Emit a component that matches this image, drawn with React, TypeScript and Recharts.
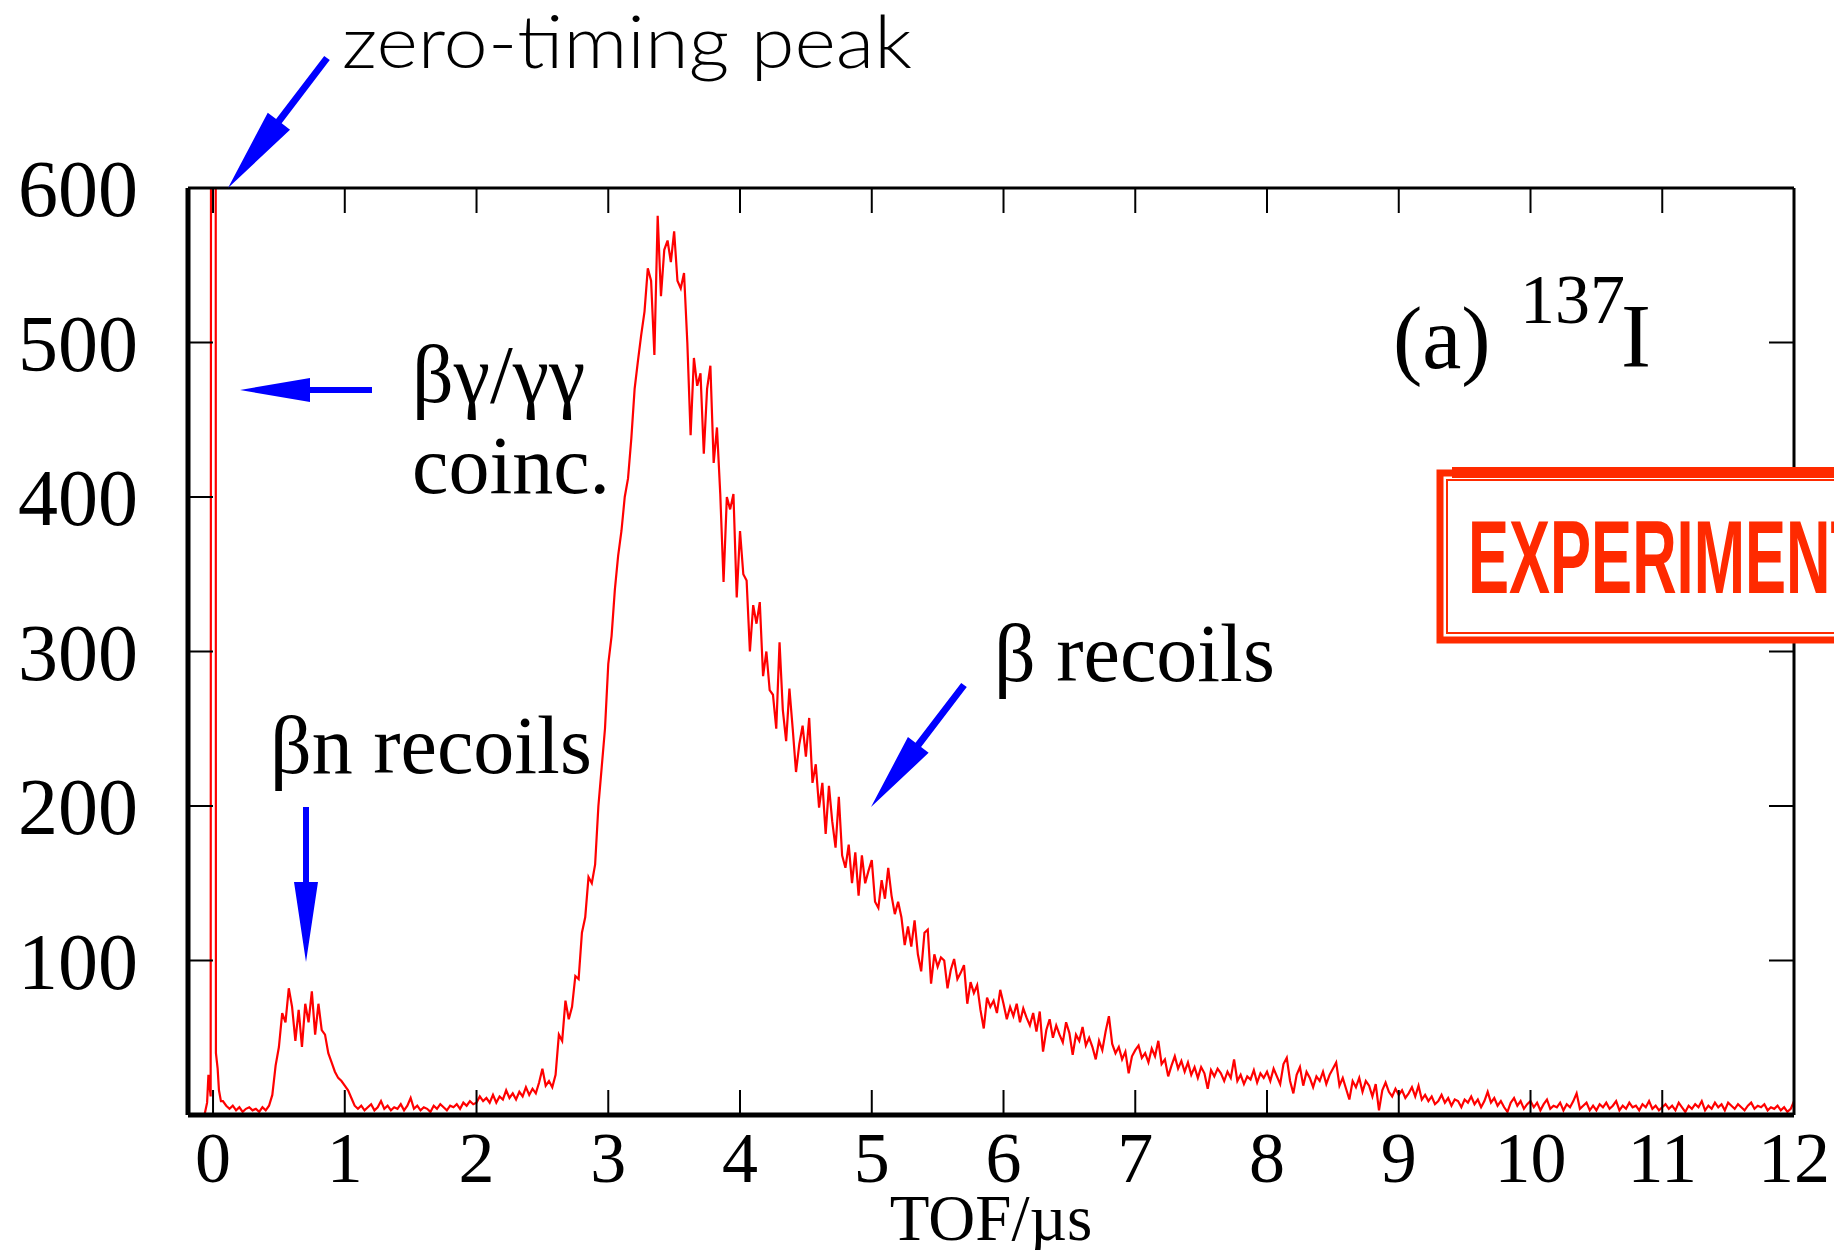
import React from 'react';
import { LineChart, Line, XAxis, YAxis } from 'recharts';

// TOF spectrum of 137I, counts per 0.025 us bin
const BIN_US = 0.025;

const zeroPeakTof = [-0.065, -0.045, -0.035, -0.018, -0.012, 0.018, 0.022, 0.035, 0.045, 0.06];
const zeroPeakCounts = [0, 8, 26, 12, 1500, 1500, 40, 30, 16, 9];

// 0.075 .. 0.975 us (beta-n recoils)
const betaNCounts = [
  9, 6, 4, 6, 3, 5, 2, 4, 5, 3, 4, 2, 5, 3, 6, 13,
  32, 44, 66, 60, 82, 70, 48, 68, 44, 72, 60, 80, 52, 72, 55, 52, 40, 34, 28, 24, 22,
];
const us1Counts = [
  19, 16, 11, 6, 4, 6, 3, 5, 7, 3, 5, 9, 4, 6, 3, 5, 4, 7, 3, 6,
  11, 4, 6, 3, 5, 4, 2, 6, 4, 7, 5, 3, 6, 5, 7, 4, 8, 6, 9, 7,
];
const us2Counts = [
  8, 12, 9, 11, 8, 13, 8, 12, 10, 16, 11, 14, 10, 15, 12, 18, 13, 17, 14, 21,
  30, 19, 22, 18, 26, 52, 48, 74, 62, 70, 90, 88, 118, 128, 154, 150, 162, 200, 225, 250,
];
const us3Counts = [
  292, 310, 340, 362, 378, 400, 412, 438, 470, 488, 505, 520, 548, 540, 492, 582, 530, 560, 566, 552,
  572, 540, 535, 545, 500, 440, 490, 472, 480, 428, 470, 485, 422, 445, 402, 345, 400, 392, 402, 335,
];
const us4Counts = [
  378, 350, 346, 300, 330, 318, 332, 284, 300, 275, 272, 250, 306, 262, 242, 276, 250, 222, 240, 252,
  232, 257, 215, 227, 199, 215, 182, 213, 190, 173, 206, 168, 160, 175, 150, 170, 142, 168, 150, 158,
];
const us5Counts = [
  165, 138, 134, 152, 140, 160, 142, 130, 138, 128, 110, 122, 109, 126, 104, 93, 118, 120, 85, 104,
  96, 102, 100, 82, 94, 101, 88, 92, 97, 72, 86, 79, 84, 68, 56, 76, 70, 74, 66, 81,
];
const us6Counts = [
  72, 62, 70, 64, 72, 60, 69, 63, 58, 66, 54, 67, 41, 55, 62, 50, 58, 52, 47, 60,
  53, 39, 52, 48, 57, 45, 50, 44, 36, 48, 42, 54, 64, 46, 40, 44, 36, 41, 27, 38,
];
const us7Counts = [
  42, 45, 37, 40, 34, 43, 38, 48, 33, 36, 25, 32, 38, 30, 35, 28, 34, 26, 31, 24,
  31, 27, 17, 29, 25, 30, 27, 22, 28, 24, 36, 22, 26, 20, 25, 23, 29, 21, 27, 24,
];
const us8Counts = [
  28, 22, 30, 25, 20, 33, 37, 22, 14, 26, 31, 19, 28, 24, 18, 25, 22, 28, 20, 26,
  30, 34, 19, 24, 17, 10, 22, 18, 24, 15, 22, 19, 12, 20, 3, 16, 21, 15, 12, 17,
];
const us9Counts = [
  13, 16, 11, 14, 18, 12, 19, 10, 13, 9, 12, 7, 9, 13, 8, 11, 6, 10, 9, 5,
  10, 8, 12, 7, 10, 5, 9, 15, 8, 11, 6, 9, 5, 2, 8, 11, 6, 9, 4, 7,
];
const us10Counts = [
  9, 5, 8, 3, 7, 10, 4, 6, 5, 8, 3, 7, 5, 9, 14, 4, 6, 8, 3, 6,
  3, 7, 5, 8, 4, 6, 9, 3, 6, 4, 8, 5, 6, 3, 7, 5, 9, 4, 6, 3,
];
const us11Counts = [
  5, 7, 4, 6, 3, 8, 5, 2, 6, 4, 7, 5, 9, 3, 6, 4, 8, 5, 7, 3,
  8, 6, 4, 7, 5, 3, 6, 8, 4, 6, 5, 7, 3, 5, 4, 6, 3, 5, 2, 4, 9,
];

const xTicks = [0, 1, 2, 3, 4, 5, 6, 7, 8, 9, 10, 11, 12];
const yTicks = [100, 200, 300, 400, 500, 600];

const segments: { start: number; counts: number[] }[] = [
  { start: 0.075, counts: betaNCounts },
  { start: 1, counts: us1Counts },
  { start: 2, counts: us2Counts },
  { start: 3, counts: us3Counts },
  { start: 4, counts: us4Counts },
  { start: 5, counts: us5Counts },
  { start: 6, counts: us6Counts },
  { start: 7, counts: us7Counts },
  { start: 8, counts: us8Counts },
  { start: 9, counts: us9Counts },
  { start: 10, counts: us10Counts },
  { start: 11, counts: us11Counts },
];

const data = [
  ...zeroPeakTof.map((t, i) => ({ tof: t, counts: zeroPeakCounts[i] })),
  ...segments.flatMap((seg) =>
    seg.counts.map((c, i) => ({ tof: +(seg.start + i * BIN_US).toFixed(3), counts: c }))
  ),
];

const SERIF = "'Liberation Serif', 'Times New Roman', serif";
const TICK_LEN = 25;
const BLUE = '#0000ff';
const STAMP = '#ff2a00';

const BottomTick = (props: any) => {
  const { x, y, payload } = props;
  return (
    <g>
      <line x1={x} y1={y} x2={x} y2={y - TICK_LEN} stroke="#000" strokeWidth={2} />
      <text x={x} y={y + 67} textAnchor="middle" fontFamily={SERIF} fontSize={72} fill="#000">
        {payload.value}
      </text>
    </g>
  );
};

const TopTick = (props: any) => {
  const { x, y } = props;
  return <line x1={x} y1={y} x2={x} y2={y + TICK_LEN} stroke="#000" strokeWidth={2} />;
};

const LeftTick = (props: any) => {
  const { x, y, payload } = props;
  return (
    <g>
      <line x1={x} y1={y} x2={x + TICK_LEN} y2={y} stroke="#000" strokeWidth={2} />
      <text x={x - 50} y={y + 28} textAnchor="end" fontFamily={SERIF} fontSize={80} fill="#000">
        {payload.value}
      </text>
    </g>
  );
};

const RightTick = (props: any) => {
  const { x, y } = props;
  return <line x1={x - TICK_LEN} y1={y} x2={x} y2={y} stroke="#000" strokeWidth={2} />;
};

// filled arrow polygon from tail to tip
function arrow(x1: number, y1: number, x2: number, y2: number, shaft: number, headLen: number, headW: number) {
  const dx = x2 - x1;
  const dy = y2 - y1;
  const len = Math.hypot(dx, dy);
  const ux = dx / len;
  const uy = dy / len;
  const px = -uy;
  const py = ux;
  const bx = x2 - ux * headLen;
  const by = y2 - uy * headLen;
  const pts = [
    [x1 + (px * shaft) / 2, y1 + (py * shaft) / 2],
    [bx + (px * shaft) / 2, by + (py * shaft) / 2],
    [bx + (px * headW) / 2, by + (py * headW) / 2],
    [x2, y2],
    [bx - (px * headW) / 2, by - (py * headW) / 2],
    [bx - (px * shaft) / 2, by - (py * shaft) / 2],
    [x1 - (px * shaft) / 2, y1 - (py * shaft) / 2],
  ];
  return pts.map((p) => p.join(',')).join(' ');
}

const Annotations = () => (
  <svg
    width={1834}
    height={1250}
    style={{ position: 'absolute', left: 0, top: 0, pointerEvents: 'none' }}
  >
    <text x={342} y={68} fontFamily="Lato, 'Noto Sans', sans-serif" fontWeight={300} fontSize={72}
      textLength={570} lengthAdjust="spacingAndGlyphs" fill="#000">
      zero-timing peak
    </text>
    <polygon points={arrow(327, 58, 228, 188, 7, 84, 28)} fill={BLUE} />

    <polygon points={arrow(372, 390, 240, 390, 6, 70, 24)} fill={BLUE} />
    <text x={412} y={402} fontFamily={SERIF} fontSize={82} fill="#000">βγ/γγ</text>
    <text x={412} y={493} fontFamily={SERIF} fontSize={82} fill="#000">coinc.</text>

    <text x={270} y={773} fontFamily={SERIF} fontSize={82} fill="#000">βn recoils</text>
    <polygon points={arrow(306, 807, 306, 962, 6, 80, 24)} fill={BLUE} />

    <text x={994} y={681} fontFamily={SERIF} fontSize={82} fill="#000">β recoils</text>
    <polygon points={arrow(964, 685, 871, 807, 7, 78, 26)} fill={BLUE} />

    <text x={1393} y={368} fontFamily={SERIF} fontSize={88} fill="#000">(a)</text>
    <text x={1520} y={323} fontFamily={SERIF} fontSize={70} fill="#000">137</text>
    <text x={1621} y={367} fontFamily={SERIF} fontSize={90} fill="#000">I</text>

    <rect x={1440} y={473} width={420} height={167} fill="#fff" stroke={STAMP} strokeWidth={7} />
    <rect x={1447} y={480} width={410} height={153} fill="none" stroke={STAMP} strokeWidth={2} />
    <rect x={1452} y={467} width={400} height={11} fill={STAMP} />
    <text x={1468} y={593} fontFamily="'Liberation Sans', Arial, sans-serif" fontWeight={700}
      fontSize={104} textLength={400} lengthAdjust="spacingAndGlyphs" fill={STAMP}>
      EXPERIMENT
    </text>
  </svg>
);

export default function App() {
  return (
    <div style={{ position: 'absolute', left: 0, top: 0, width: 1834, height: 1250, background: '#fff' }}>
      <LineChart
        width={1834}
        height={1250}
        data={data}
        margin={{ top: 187, right: 39, bottom: 0, left: 0 }}
      >
        <XAxis
          dataKey="tof"
          type="number"
          domain={[-0.19, 12]}
          allowDataOverflow
          ticks={xTicks}
          interval={0}
          height={135}
          tickSize={0}
          tickMargin={0}
          tickLine={false}
          axisLine={{ stroke: '#000', strokeWidth: 5 }}
          tick={(p: any) => <BottomTick {...p} />}
          label={{
            value: 'TOF/µs',
            position: 'insideBottom',
            offset: 10,
            fontSize: 65,
            fontFamily: SERIF,
            fill: '#000',
          }}
        />
        <XAxis
          xAxisId="top"
          orientation="top"
          dataKey="tof"
          type="number"
          domain={[-0.19, 12]}
          allowDataOverflow
          ticks={xTicks}
          interval={0}
          height={1}
          tickSize={0}
          tickMargin={0}
          tickLine={false}
          axisLine={{ stroke: '#000', strokeWidth: 3 }}
          tick={(p: any) => <TopTick {...p} />}
        />
        <YAxis
          type="number"
          domain={[0, 600]}
          allowDataOverflow
          ticks={yTicks}
          interval={0}
          width={188}
          tickSize={0}
          tickMargin={0}
          tickLine={false}
          axisLine={{ stroke: '#000', strokeWidth: 5 }}
          tick={(p: any) => <LeftTick {...p} />}
        />
        <YAxis
          yAxisId="right"
          orientation="right"
          type="number"
          domain={[0, 600]}
          allowDataOverflow
          ticks={yTicks}
          interval={0}
          width={1}
          tickSize={0}
          tickMargin={0}
          tickLine={false}
          axisLine={{ stroke: '#000', strokeWidth: 3 }}
          tick={(p: any) => <RightTick {...p} />}
        />
        {/* invisible series that binds the frame axes (top / right) */}
        <Line
          xAxisId="top"
          yAxisId="right"
          dataKey="counts"
          stroke="none"
          dot={false}
          activeDot={false}
          isAnimationActive={false}
        />
        <Line
          dataKey="counts"
          type="linear"
          stroke="#ff0000"
          strokeWidth={2.2}
          dot={false}
          isAnimationActive={false}
        />
      </LineChart>
      <Annotations />
    </div>
  );
}
